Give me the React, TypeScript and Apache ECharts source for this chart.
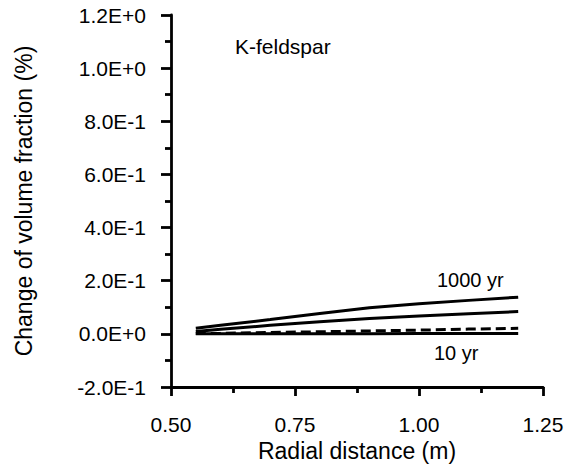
import React, { useEffect, useRef } from "react";
import * as echarts from "echarts";

// Radial distance (m) at which the profiles are sampled
const radialDistance = [0.55, 0.6, 0.7, 0.8, 0.9, 1.0, 1.1, 1.2];

// Change of K-feldspar volume fraction (%) at successive times
const yr1000 = [0.021, 0.032, 0.054, 0.077, 0.098, 0.113, 0.126, 0.138];
const yrMid = [0.009, 0.017, 0.032, 0.046, 0.058, 0.067, 0.076, 0.084];
const yrEarly = [0.001, 0.002, 0.005, 0.008, 0.011, 0.014, 0.018, 0.021];
const yr10 = [0.0, 0.0, 0.0, 0.0005, 0.0005, 0.001, 0.001, 0.001];

const xTicks = { min: 0.5, max: 1.25, step: 0.25 };
const yTicks = { min: -0.2, max: 1.2, step: 0.2 };

const FONT = "Liberation Sans, Arial, sans-serif";

const pair = (ys: number[]) => radialDistance.map((x, i) => [x, ys[i]]);

const sciLabel = (v: number) => {
  const r = Math.round(v * 10) / 10;
  return r.toExponential(1).replace("e", "E");
};

export default function App() {
  const ref = useRef<HTMLDivElement>(null);

  useEffect(() => {
    if (!ref.current) return;
    const chart = echarts.init(ref.current, null, { renderer: "svg" });
    const axisLine = { show: true, onZero: false, lineStyle: { color: "#000", width: 2.8 } };
    const lineSeries = (name: string, ys: number[], dashed = false) => ({
      name,
      type: "line",
      data: pair(ys),
      showSymbol: false,
      symbol: "none",
      lineStyle: { color: "#000", width: 3, type: dashed ? [10, 5] : "solid" },
      z: 3,
    });
    chart.setOption({
      animation: false,
      backgroundColor: "#fff",
      grid: { left: 171, top: 15, right: 26, bottom: 81 },
      xAxis: {
        type: "value",
        min: xTicks.min,
        max: xTicks.max,
        interval: xTicks.step,
        name: "Radial distance (m)",
        nameLocation: "middle",
        nameGap: 47,
        nameTextStyle: { color: "#000", fontSize: 23, fontFamily: FONT },
        axisLine,
        axisTick: { show: true, inside: false, length: 9, lineStyle: { color: "#000", width: 2.8 } },
        minorTick: { show: true, splitNumber: 2, length: 6, lineStyle: { color: "#000", width: 2.8 } },
        splitLine: { show: false },
        axisLabel: {
          color: "#000",
          fontSize: 21,
          fontFamily: FONT,
          margin: 27,
          formatter: (v: number) => v.toFixed(2),
        },
      },
      yAxis: {
        type: "value",
        min: yTicks.min,
        max: yTicks.max,
        interval: yTicks.step,
        name: "Change of volume fraction (%)",
        nameLocation: "middle",
        nameGap: 136,
        nameTextStyle: { color: "#000", fontSize: 23, fontFamily: FONT },
        axisLine,
        axisTick: { show: true, inside: false, length: 10, lineStyle: { color: "#000", width: 2.8 } },
        minorTick: { show: true, splitNumber: 2, length: 6, lineStyle: { color: "#000", width: 2.8 } },
        splitLine: { show: false },
        axisLabel: {
          color: "#000",
          fontSize: 21,
          fontFamily: FONT,
          margin: 25,
          formatter: sciLabel,
        },
      },
      series: [
        lineSeries("1000 yr", yr1000),
        lineSeries("intermediate", yrMid),
        lineSeries("early", yrEarly, true),
        lineSeries("10 yr", yr10),
      ],
      graphic: [
        {
          type: "text",
          left: 235,
          top: 36,
          style: { text: "K-feldspar", fill: "#000", fontSize: 21, fontFamily: FONT },
        },
        {
          type: "text",
          left: 437,
          top: 270,
          style: { text: "1000 yr", fill: "#000", fontSize: 20, fontFamily: FONT },
        },
        {
          type: "text",
          left: 434,
          top: 343,
          style: { text: "10 yr", fill: "#000", fontSize: 20, fontFamily: FONT },
        },
      ],
    });
    return () => chart.dispose();
  }, []);

  return <div ref={ref} style={{ width: 569, height: 468, position: "absolute", left: 0, top: 0 }} />;
}
